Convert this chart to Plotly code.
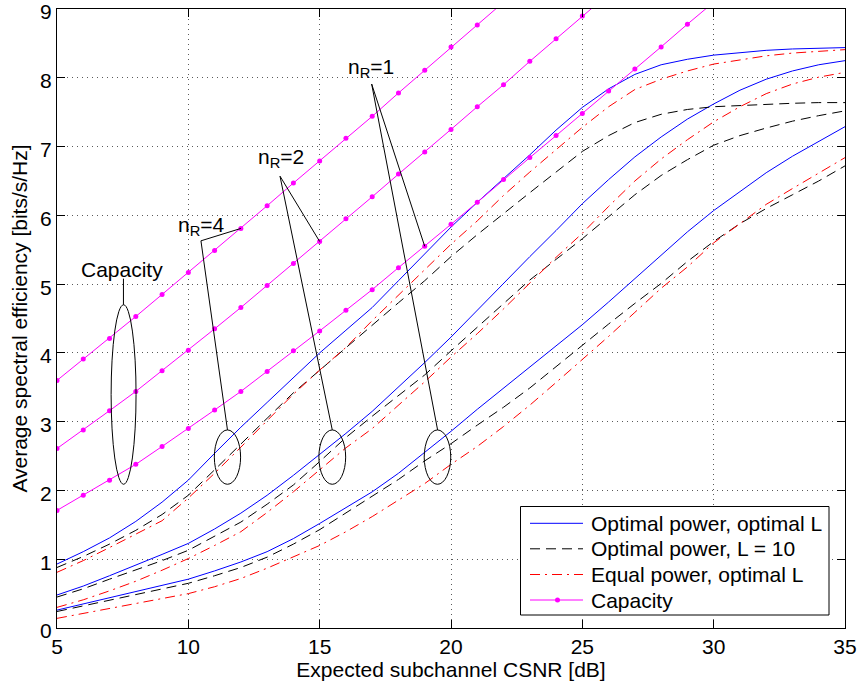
import plotly.graph_objects as go

# ---------------- data ----------------
snr = list(range(5, 36))

# Optimal power, optimal L (blue)
opt_nr4 = [0.93, 1.11, 1.31, 1.55, 1.83, 2.15, 2.54, 2.92, 3.28, 3.64, 4.00, 4.33, 4.66, 5.05, 5.44, 5.83,
           6.19, 6.53, 6.88, 7.24, 7.57, 7.84, 8.05, 8.19, 8.27, 8.33, 8.37, 8.40, 8.42, 8.43, 8.44]
opt_nr2 = [0.48, 0.61, 0.76, 0.91, 1.07, 1.23, 1.44, 1.67, 1.93, 2.22, 2.52, 2.83, 3.15, 3.50, 3.86, 4.23,
           4.62, 5.02, 5.40, 5.78, 6.17, 6.52, 6.85, 7.14, 7.40, 7.62, 7.82, 7.98, 8.10, 8.19, 8.25]
opt_nr1 = [0.26, 0.35, 0.44, 0.53, 0.62, 0.71, 0.83, 0.96, 1.11, 1.30, 1.52, 1.75, 1.98, 2.25, 2.55, 2.86,
           3.18, 3.49, 3.80, 4.10, 4.41, 4.74, 5.08, 5.43, 5.76, 6.07, 6.35, 6.62, 6.86, 7.08, 7.29]

# Optimal power, L = 10 (black dashed)
l10_nr4 = [0.88, 1.04, 1.22, 1.42, 1.65, 1.93, 2.30, 2.68, 3.05, 3.42, 3.75, 4.08, 4.41, 4.73, 5.05, 5.40,
           5.72, 6.03, 6.33, 6.63, 6.93, 7.16, 7.35, 7.47, 7.54, 7.58, 7.60, 7.62, 7.63, 7.64, 7.64]
l10_nr2 = [0.45, 0.57, 0.71, 0.84, 0.98, 1.13, 1.33, 1.54, 1.80, 2.08, 2.42, 2.77, 3.08, 3.38, 3.68, 4.03,
           4.37, 4.72, 5.06, 5.36, 5.66, 5.98, 6.30, 6.58, 6.81, 7.02, 7.16, 7.27, 7.37, 7.45, 7.52]
l10_nr1 = [0.24, 0.32, 0.40, 0.48, 0.56, 0.65, 0.76, 0.88, 1.03, 1.22, 1.43, 1.67, 1.91, 2.16, 2.43, 2.68,
           2.95, 3.21, 3.49, 3.80, 4.12, 4.42, 4.72, 5.01, 5.33, 5.62, 5.88, 6.10, 6.30, 6.50, 6.72]

# Equal power, optimal L (red dash-dot)
eq_nr4 = [0.81, 0.98, 1.17, 1.36, 1.56, 1.89, 2.25, 2.63, 3.02, 3.40, 3.75, 4.08, 4.47, 4.84, 5.22, 5.58,
          5.92, 6.29, 6.63, 6.96, 7.28, 7.58, 7.83, 7.98, 8.10, 8.20, 8.26, 8.32, 8.36, 8.39, 8.41]
eq_nr2 = [0.30, 0.41, 0.54, 0.68, 0.84, 1.01, 1.20, 1.40, 1.68, 1.98, 2.30, 2.62, 2.90, 3.24, 3.58, 3.94,
          4.28, 4.64, 5.02, 5.39, 5.74, 6.13, 6.50, 6.82, 7.10, 7.36, 7.58, 7.77, 7.91, 8.01, 8.08]
eq_nr1 = [0.14, 0.21, 0.28, 0.35, 0.42, 0.50, 0.60, 0.72, 0.87, 1.03, 1.20, 1.40, 1.62, 1.86, 2.10, 2.38,
          2.64, 2.93, 3.24, 3.57, 3.90, 4.24, 4.59, 4.94, 5.25, 5.60, 5.88, 6.16, 6.39, 6.62, 6.84]

# Capacity (magenta, dots)
cap_nr4_x = list(range(5, 23))
cap_nr4 = [3.60, 3.91, 4.21, 4.53, 4.85, 5.17, 5.49, 5.81, 6.14, 6.47, 6.79, 7.12, 7.44, 7.78, 8.11, 8.45,
           8.77, 9.10]
cap_nr2_x = list(range(5, 27))
cap_nr2 = [2.61, 2.88, 3.16, 3.44, 3.74, 4.04, 4.35, 4.66, 4.98, 5.30, 5.62, 5.95, 6.27, 6.60, 6.92, 7.25,
           7.58, 7.90, 8.24, 8.57, 8.90, 9.22]
cap_nr1_x = list(range(5, 31))
cap_nr1 = [1.71, 1.93, 2.15, 2.38, 2.64, 2.90, 3.17, 3.44, 3.73, 4.03, 4.32, 4.62, 4.92, 5.24, 5.55, 5.87,
           6.19, 6.52, 6.84, 7.16, 7.48, 7.81, 8.13, 8.45, 8.78, 9.10]

x_ticks = [5, 10, 15, 20, 25, 30, 35]
y_ticks = [0, 1, 2, 3, 4, 5, 6, 7, 8, 9]
legend_names = ["Optimal power, optimal L", "Optimal power, L = 10", "Equal power, optimal L", "Capacity"]

# ---------------- figure ----------------
FONT = "Liberation Sans, Arial, sans-serif"
W, H = 858, 686
ML, MR, MT, MB = 57, 13, 9, 58
PW, PH = W - ML - MR, H - MT - MB


def px_x(px):
    return (px - ML) / PW


def px_y(py):
    return (H - MB - py) / PH


fig = go.Figure()

styles = [
    (legend_names[0], "#0000FF", "solid", [opt_nr4, opt_nr2, opt_nr1]),
    (legend_names[1], "#000000", "10px,6px", [l10_nr4, l10_nr2, l10_nr1]),
    (legend_names[2], "#FF0000", "10px,5px,2px,5px", [eq_nr4, eq_nr2, eq_nr1]),
]
for name, color, dash, series in styles:
    for ys in series:
        fig.add_trace(go.Scatter(
            x=snr, y=ys, mode="lines", name=name, showlegend=False,
            line=dict(color=color, width=1, dash=dash),
        ))

for xs, ys in [(cap_nr4_x, cap_nr4), (cap_nr2_x, cap_nr2), (cap_nr1_x, cap_nr1)]:
    fig.add_trace(go.Scatter(
        x=xs, y=ys, mode="lines+markers", name=legend_names[3], showlegend=False,
        line=dict(color="#FF00FF", width=1),
        marker=dict(color="#FF00FF", size=5),
    ))

# annotation ellipses
ell = dict(type="circle", xref="x", yref="y", line=dict(color="black", width=1))
fig.add_shape(x0=7.06, x1=8.01, y0=2.09, y1=4.70, **ell)
fig.add_shape(x0=10.99, x1=11.99, y0=2.09, y1=2.88, **ell)
fig.add_shape(x0=14.97, x1=15.99, y0=2.09, y1=2.88, **ell)
fig.add_shape(x0=18.98, x1=19.99, y0=2.09, y1=2.88, **ell)

# pointer lines
seg = dict(type="line", xref="x", yref="y", line=dict(color="black", width=1))
fig.add_shape(x0=7.53, y0=5.08, x1=7.53, y1=4.70, **seg)
fig.add_shape(x0=10.48, y0=5.63, x1=12.0, y1=5.81, **seg)
fig.add_shape(x0=10.48, y0=5.63, x1=11.49, y1=2.88, **seg)
fig.add_shape(x0=13.49, y0=6.57, x1=15.0, y1=5.62, **seg)
fig.add_shape(x0=13.49, y0=6.57, x1=15.48, y1=2.88, **seg)
fig.add_shape(x0=16.98, y0=7.91, x1=19.0, y1=5.55, **seg)
fig.add_shape(x0=16.98, y0=7.91, x1=19.49, y1=2.88, **seg)

ann_font = dict(family=FONT, size=21, color="black")
fig.add_annotation(x=7.49, y=5.22, text="Capacity", showarrow=False, font=ann_font,
                   xanchor="center", yanchor="middle")
fig.add_annotation(x=10.52, y=5.84, text="n<sub>R</sub>=4", showarrow=False, font=ann_font,
                   xanchor="center", yanchor="middle")
fig.add_annotation(x=13.52, y=6.83, text="n<sub>R</sub>=2", showarrow=False, font=ann_font,
                   xanchor="center", yanchor="middle")
fig.add_annotation(x=16.95, y=8.15, text="n<sub>R</sub>=1", showarrow=False, font=ann_font,
                   xanchor="center", yanchor="middle")

# ---------------- legend (boxed, lower right) ----------------
fig.add_shape(type="rect", xref="paper", yref="paper",
              x0=px_x(520.5), x1=px_x(829), y0=px_y(615), y1=px_y(506.5),
              line=dict(color="black", width=1), fillcolor="white", layer="above")
leg_rows = [523.3, 548.8, 574.5, 600]
leg_styles = [("#0000FF", "solid"), ("#000000", "10px,6px"), ("#FF0000", "10px,5px,2px,5px"), ("#FF00FF", "solid")]
for (color, dash), name, ry in zip(leg_styles, legend_names, leg_rows):
    fig.add_shape(type="line", xref="paper", yref="paper",
                  x0=px_x(530), x1=px_x(583), y0=px_y(ry), y1=px_y(ry),
                  line=dict(color=color, width=1, dash=dash), layer="above")
    fig.add_annotation(x=px_x(589), y=px_y(ry), xref="paper", yref="paper", text=name,
                       showarrow=False, xanchor="left", yanchor="middle", font=ann_font)
fig.add_shape(type="circle", xref="paper", yref="paper",
              x0=px_x(555), x1=px_x(560), y0=px_y(602.5), y1=px_y(597.5),
              line=dict(color="#FF00FF", width=0), fillcolor="#FF00FF", layer="above")

axis_common = dict(
    showline=True, linecolor="black", linewidth=1, mirror="allticks",
    ticks="inside", ticklen=8, tickcolor="black", tickwidth=1,
    showgrid=True, gridcolor="#5a5a5a", griddash="1px,4px", gridwidth=1,
    zeroline=False, tickfont=dict(family=FONT, size=21, color="black"),
    ticklabeloverflow="allow", automargin=False,
)
fig.update_xaxes(range=[5, 35], tickvals=x_ticks,
                 title=dict(text="Expected subchannel CSNR [dB]", font=dict(family=FONT, size=21, color="black"),
                            standoff=4),
                 **axis_common)
fig.update_yaxes(range=[0, 9.001], tickvals=y_ticks, ticklabelshift=3,
                 title=dict(text="Average spectral efficiency [bits/s/Hz]",
                            font=dict(family=FONT, size=21, color="black"), standoff=6),
                 **axis_common)

fig.update_layout(
    width=W, height=H,
    margin=dict(l=ML, r=MR, t=MT, b=MB),
    paper_bgcolor="white", plot_bgcolor="white",
    font=dict(family=FONT, size=21, color="black"),
    showlegend=False,
)

fig.write_html("out.html")
